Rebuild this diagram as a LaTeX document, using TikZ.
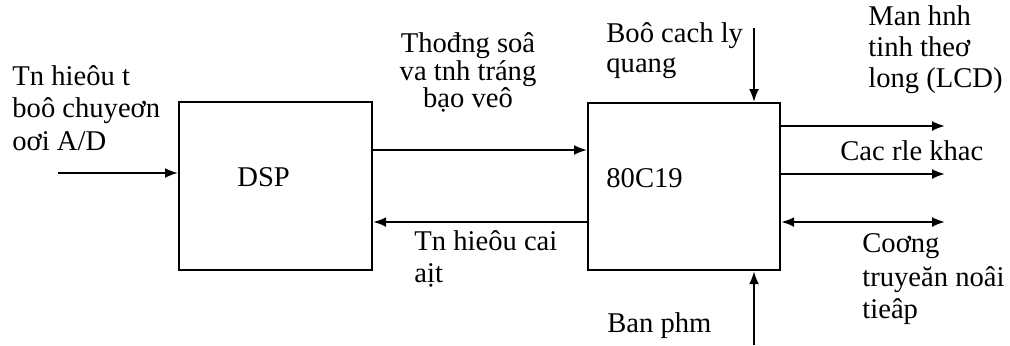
\documentclass[tikz,border=0pt]{standalone}
\usepackage{fontspec}
\setmainfont{Liberation Serif}
\usetikzlibrary{arrows.meta}
\begin{document}
\begin{tikzpicture}[x=0.5pt,y=-0.5pt,
  font=\fontsize{14.3}{16}\selectfont,
  box/.style={draw, line width=1.1pt, inner sep=0pt, anchor=north west},
  lbl/.style={anchor=base west, inner sep=0pt},
  clbl/.style={anchor=base, inner sep=0pt},
  arr/.style={line width=1pt, -{Latex[length=6.5pt,width=5pt]}},
  darr/.style={line width=1pt, {Latex[length=6.5pt,width=5pt]}-{Latex[length=6.5pt,width=5pt]}}]
\useasboundingbox (0,0) rectangle (1010,345);

% boxes
\node[box, minimum width=96.5pt, minimum height=84pt] (dsp) at (178,101) {};
\node[box, minimum width=96pt, minimum height=83.5pt] (mcu) at (587,102) {};
\node[lbl] (dsptxt) at (237,186) {DSP};
\node[lbl] (mcutxt) at (606,187) {80C19};

% left input
\node[lbl] (in1) at (12,85) {Tn hieôu t};
\node[lbl] (in2) at (12,117) {boô chuyeơn};
\node[lbl] (in3) at (12,150) {oơi A/D};
\coordinate (inA) at (58,173);
\draw[arr] (inA) -- (dsp.west |- inA);

% DSP <-> 80C19
\coordinate (yF) at (0,150);
\coordinate (yB) at (0,222);
\draw[arr] (dsp.east |- yF) -- (mcu.west |- yF);
\draw[arr] (mcu.west |- yB) -- (dsp.east |- yB);
\node[clbl] (th1) at (468,52) {Thođng soâ};
\node[clbl] (th2) at (468,80) {va tnh tráng};
\node[clbl] (th3) at (468,107) {bạo veô};
\node[lbl] (tn1) at (414,250) {Tn hieôu cai};
\node[lbl] (tn2) at (414,282) {aịt};

% top and bottom
\node[lbl] (bo1) at (606,42) {Boô cach ly};
\node[lbl] (bo2) at (606,72) {quang};
\coordinate (tIn) at (754,28);
\draw[arr] (tIn) -- (tIn |- mcu.north);
\node[lbl] (ban) at (607,332) {Ban phm};
\coordinate (bIn) at (754,345);
\draw[arr] (bIn) -- (bIn |- mcu.south);

% right outputs
\coordinate (o1) at (945,126);
\coordinate (o2) at (945,174);
\coordinate (o3) at (945,222);
\draw[arr] (mcu.east |- o1) -- (o1);
\draw[arr] (mcu.east |- o2) -- (o2);
\draw[darr] (mcu.east |- o3) -- (o3);
\node[lbl] (lc1) at (868,25) {Man hnh};
\node[lbl] (lc2) at (868,56) {tinh theơ};
\node[lbl] (lc3) at (868,87) {long (LCD)};
\node[lbl] (rl) at (840,160) {Cac rle khac};
\node[lbl] (co1) at (862,252) {Coơng};
\node[lbl] (co2) at (862,286) {truyeăn noâi};
\node[lbl] (co3) at (862,318) {tieâp};
\end{tikzpicture}
\end{document}
